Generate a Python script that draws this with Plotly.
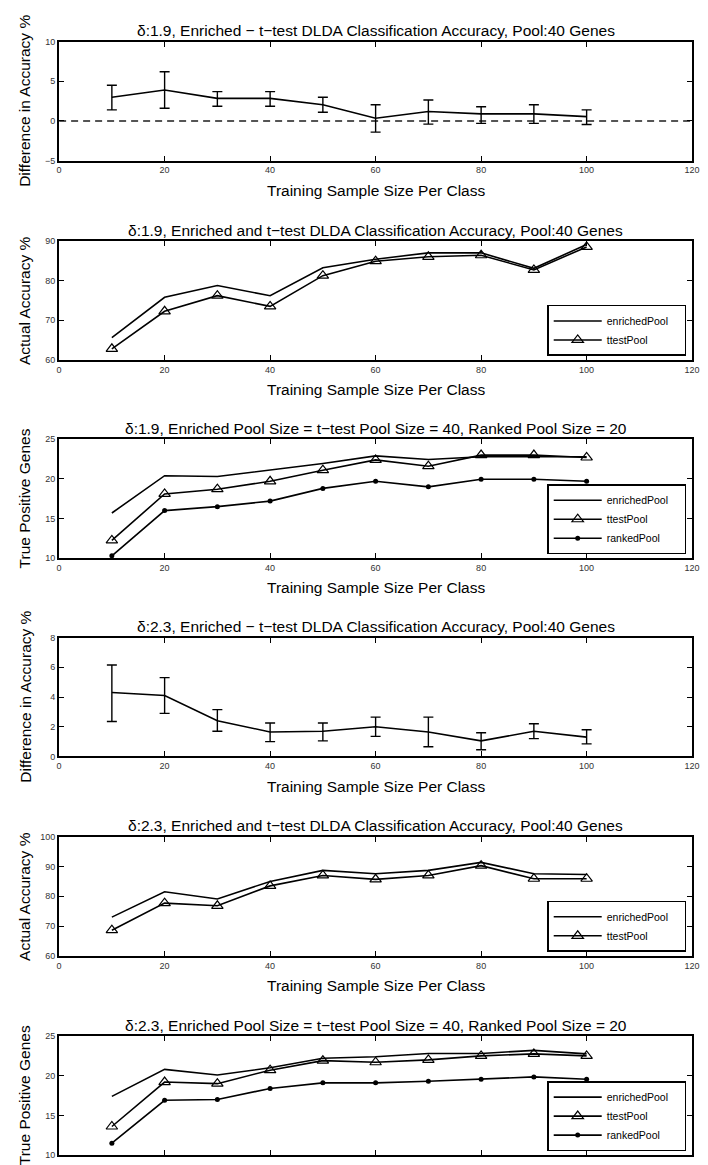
import plotly.graph_objects as go

W, H = 708, 1165

# ---------------- data ----------------
sample_size = [10, 20, 30, 40, 50, 60, 70, 80, 90, 100]
x_ticks = [0, 20, 40, 60, 80, 100, 120]

# delta 1.9 : difference in accuracy (enriched - t-test)
d19_diff_mean = [3.0, 3.9, 2.85, 2.85, 2.05, 0.35, 1.2, 0.9, 0.9, 0.55]
d19_diff_upper = [4.5, 6.2, 3.7, 3.7, 3.0, 2.05, 2.65, 1.8, 2.05, 1.4]
d19_diff_lower = [1.4, 1.6, 1.85, 1.85, 1.1, -1.4, -0.4, -0.3, -0.3, -0.45]

# delta 1.9 : actual accuracy
d19_acc_enriched = [65.6, 75.8, 78.75, 76.2, 83.25, 85.4, 87.0, 87.0, 83.1, 89.1]
d19_acc_ttest = [62.8, 72.25, 76.2, 73.5, 81.25, 84.9, 86.0, 86.4, 82.7, 88.5]

# delta 1.9 : true positive genes
d19_tp_enriched = [15.7, 20.4, 20.3, 21.1, 21.95, 22.9, 22.45, 22.8, 22.8, 22.8]
d19_tp_ttest = [12.25, 18.1, 18.7, 19.7, 21.1, 22.4, 21.6, 23.0, 23.0, 22.7]
d19_tp_ranked = [10.3, 16.0, 16.5, 17.2, 18.8, 19.7, 19.0, 19.95, 19.95, 19.7]

# delta 2.3 : difference in accuracy
d23_diff_mean = [4.3, 4.1, 2.4, 1.65, 1.7, 2.0, 1.65, 1.05, 1.7, 1.3]
d23_diff_upper = [6.15, 5.3, 3.15, 2.25, 2.25, 2.65, 2.65, 1.6, 2.2, 1.8]
d23_diff_lower = [2.35, 2.9, 1.7, 1.0, 1.05, 1.35, 0.65, 0.45, 1.2, 0.85]

# delta 2.3 : actual accuracy
d23_acc_enriched = [73.0, 81.5, 79.1, 85.0, 88.7, 87.6, 88.7, 91.4, 87.6, 87.3]
d23_acc_ttest = [68.6, 77.7, 76.8, 83.5, 87.0, 85.7, 87.0, 90.3, 85.9, 85.9]

# delta 2.3 : true positive genes
d23_tp_enriched = [17.4, 20.8, 20.1, 21.0, 22.2, 22.4, 22.8, 22.8, 23.2, 22.75]
d23_tp_ttest = [13.6, 19.2, 19.0, 20.7, 21.9, 21.7, 22.0, 22.5, 22.75, 22.5]
d23_tp_ranked = [11.5, 16.9, 17.0, 18.4, 19.1, 19.1, 19.3, 19.55, 19.85, 19.55]

titles = [
    "δ:1.9, Enriched − t−test DLDA Classification Accuracy, Pool:40 Genes",
    "δ:1.9, Enriched and t−test DLDA Classification Accuracy, Pool:40 Genes",
    "δ:1.9, Enriched Pool Size = t−test Pool Size = 40, Ranked Pool Size = 20",
    "δ:2.3, Enriched − t−test DLDA Classification Accuracy, Pool:40 Genes",
    "δ:2.3, Enriched and t−test DLDA Classification Accuracy, Pool:40 Genes",
    "δ:2.3, Enriched Pool Size = t−test Pool Size = 40, Ranked Pool Size = 20",
]
y_titles = ["Difference in Accuracy %", "Actual Accuracy %", "True Positive Genes",
            "Difference in Accuracy %", "Actual Accuracy %", "True Positive Genes"]
x_title = "Training Sample Size Per Class"
y_ranges = [[-5, 10], [60, 90], [10, 25], [0, 8], [60, 100], [10, 25]]
y_dticks = [5, 10, 5, 2, 10, 5]
series_names = ["enrichedPool", "ttestPool", "rankedPool"]

# ---------------- layout geometry (pixels) ----------------
LEFT, RIGHT = 57, 700
panel_tops = [37, 238, 438, 638, 839, 1040]
PANEL_H = 120
FONT = "Liberation Sans, Arial, sans-serif"
PAD = "\u00a0\u00a0\u00a0\u00a0"

def fx(px):
    return px / W

def fy(py):
    return 1 - py / H

fig = go.Figure()

def ax_name(i, kind):
    return kind if i == 0 else f"{kind}{i + 1}"

def ref(i, kind):
    return kind[0] if i == 0 else f"{kind[0]}{i + 1}"

def add_errorbar_panel(i, mean, upper, lower, zero_line):
    xr, yr = ref(i, "xaxis"), ref(i, "yaxis")
    if zero_line:
        fig.add_trace(go.Scatter(x=[x_ticks[0], x_ticks[-1]], y=[0, 0], mode="lines",
                                 line=dict(color="#555", width=2, dash="7px,5px"),
                                 showlegend=False, xaxis=xr, yaxis=yr, hoverinfo="skip"))
    fig.add_trace(go.Scatter(
        x=sample_size, y=mean, mode="lines",
        line=dict(color="black", width=1.6),
        error_y=dict(type="data", symmetric=False,
                     array=[u - m for u, m in zip(upper, mean)],
                     arrayminus=[m - l for m, l in zip(mean, lower)],
                     color="black", thickness=1.4, width=5),
        showlegend=False, xaxis=xr, yaxis=yr))

def add_lines_panel(i, series, legend_name):
    xr, yr = ref(i, "xaxis"), ref(i, "yaxis")
    styles = [
        dict(mode="lines", marker=None),
        dict(mode="lines+markers", marker=dict(symbol="triangle-up-open", size=10,
                                               color="black", line=dict(width=1.2, color="black"))),
        dict(mode="lines+markers", marker=dict(symbol="circle", size=5, color="black")),
    ]
    for k, ys in enumerate(series):
        st = styles[k]
        kw = dict(x=sample_size, y=ys, mode=st["mode"], name=series_names[k] + PAD,
                  line=dict(color="black", width=1.6), xaxis=xr, yaxis=yr,
                  legend=legend_name, showlegend=True)
        if st["marker"] is not None:
            kw["marker"] = st["marker"]
        fig.add_trace(go.Scatter(**kw))

add_errorbar_panel(0, d19_diff_mean, d19_diff_upper, d19_diff_lower, True)
add_lines_panel(1, [d19_acc_enriched, d19_acc_ttest], "legend")
add_lines_panel(2, [d19_tp_enriched, d19_tp_ttest, d19_tp_ranked], "legend2")
add_errorbar_panel(3, d23_diff_mean, d23_diff_upper, d23_diff_lower, False)
add_lines_panel(4, [d23_acc_enriched, d23_acc_ttest], "legend3")
add_lines_panel(5, [d23_tp_enriched, d23_tp_ttest, d23_tp_ranked], "legend4")

layout = dict(
    width=W, height=H,
    margin=dict(l=0, r=0, t=0, b=0, pad=0),
    paper_bgcolor="white", plot_bgcolor="white",
    font=dict(family=FONT, color="black"),
    showlegend=True,
    annotations=[],
)

axis_common = dict(showline=True, linecolor="black", linewidth=2, mirror="allticks",
                   ticks="inside", ticklen=5, tickwidth=1, tickcolor="black",
                   showgrid=False, zeroline=False, ticklabeloverflow="allow",
                   tickfont=dict(family=FONT, size=9, color="#333"))

for i in range(6):
    top = panel_tops[i]
    bot = top + PANEL_H
    xa = ax_name(i, "xaxis")
    ya = ax_name(i, "yaxis")
    layout[xa] = dict(axis_common, domain=[fx(LEFT), fx(RIGHT)], range=[0, 120],
                      tickvals=x_ticks, anchor=ref(i, "yaxis"),
                      showticklabels=(i != 5))
    layout[ya] = dict(axis_common, domain=[fy(bot), fy(top)], range=y_ranges[i],
                      dtick=y_dticks[i], tick0=y_ranges[i][0], anchor=ref(i, "xaxis"))
    cx = (LEFT + RIGHT) / 2
    layout["annotations"].append(dict(
        text=titles[i], x=fx(cx), y=fy(top - 11), xref="paper", yref="paper",
        xanchor="center", yanchor="middle", showarrow=False,
        font=dict(family=FONT, size=15.5, color="black")))
    if i != 5:
        layout["annotations"].append(dict(
            text=x_title, x=fx(cx), y=fy(bot + 30), xref="paper", yref="paper",
            xanchor="center", yanchor="middle", showarrow=False,
            font=dict(family=FONT, size=15.5, color="black")))
    layout["annotations"].append(dict(
        text=y_titles[i], x=fx(22), y=fy((top + bot) / 2), xref="paper", yref="paper",
        xanchor="center", yanchor="middle", showarrow=False, textangle=-90,
        font=dict(family=FONT, size=15.5, color="black")))

legend_common = dict(bgcolor="white", bordercolor="black", borderwidth=1.5,
                     font=dict(family=FONT, size=10.5, color="black"),
                     xanchor="right", yanchor="bottom", itemwidth=48,
                     tracegroupgap=0)
legend_pos = {"legend": 1, "legend2": 2, "legend3": 4, "legend4": 5}
for name, i in legend_pos.items():
    bot = panel_tops[i] + PANEL_H
    layout[name] = dict(legend_common, x=fx(694), y=fy(bot - 4))

fig.update_layout(**layout)

post = (
    "document.documentElement.style.margin='0';"
    "document.body.style.margin='0';"
    "document.documentElement.style.overflow='hidden';"
    "document.body.style.overflow='hidden';"
)
fig.write_html(
    "out.html",
    config=dict(displayModeBar=False),
    post_script=post,
)
